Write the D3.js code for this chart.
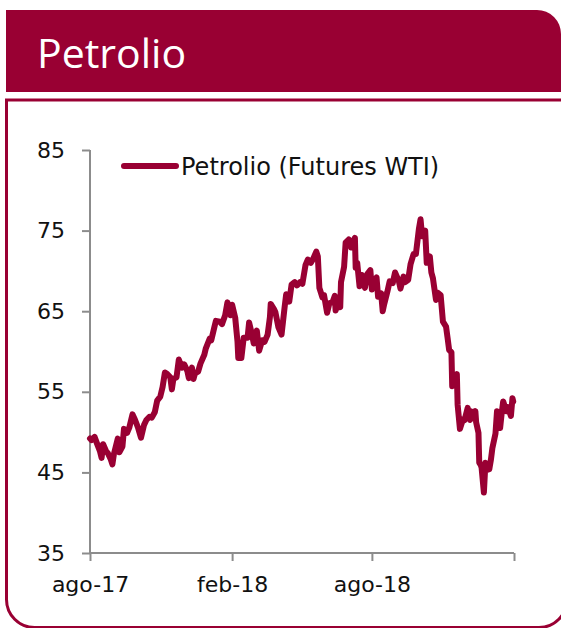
<!DOCTYPE html>
<html>
<head>
<meta charset="utf-8">
<script src="https://cdn.jsdelivr.net/npm/d3@7"></script>
<style>
  html, body { margin: 0; padding: 0; background: #ffffff; }
  svg { display: block; }
  .lbl { font-family: "DejaVu Sans", Verdana, sans-serif; fill: #111; }
</style>
</head>
<body>
<svg id="chart" width="561" height="628"></svg>
<script>
// ---- Data (WTI futures) ----
const dates = [
  "2017-08-01","2017-08-03","2017-08-07","2017-08-10","2017-08-14","2017-08-16","2017-08-18","2017-08-22","2017-08-24","2017-08-28","2017-08-30",
  "2017-09-01","2017-09-06","2017-09-08","2017-09-12","2017-09-14","2017-09-18","2017-09-21","2017-09-25","2017-09-28",
  "2017-10-02","2017-10-06","2017-10-10","2017-10-13","2017-10-17","2017-10-20","2017-10-24","2017-10-27","2017-10-31",
  "2017-11-03","2017-11-06","2017-11-09","2017-11-13","2017-11-15","2017-11-17","2017-11-21","2017-11-24","2017-11-28",
  "2017-12-01","2017-12-05","2017-12-07","2017-12-11","2017-12-13","2017-12-15","2017-12-19","2017-12-22","2017-12-27","2017-12-29",
  "2018-01-03","2018-01-05","2018-01-09","2018-01-11","2018-01-16","2018-01-19","2018-01-23","2018-01-26","2018-01-30",
  "2018-02-01","2018-02-05","2018-02-08","2018-02-09","2018-02-13","2018-02-16","2018-02-21","2018-02-23","2018-02-27",
  "2018-03-01","2018-03-05","2018-03-08","2018-03-12","2018-03-15","2018-03-19","2018-03-22","2018-03-23","2018-03-27","2018-03-29",
  "2018-04-02","2018-04-06","2018-04-10","2018-04-12","2018-04-16","2018-04-19","2018-04-23","2018-04-26","2018-04-30",
  "2018-05-03","2018-05-07","2018-05-10","2018-05-14","2018-05-17","2018-05-21","2018-05-23","2018-05-25","2018-05-29","2018-05-31",
  "2018-06-04","2018-06-07","2018-06-11","2018-06-14","2018-06-15","2018-06-18","2018-06-21","2018-06-22","2018-06-26","2018-06-28",
  "2018-07-02","2018-07-05","2018-07-09","2018-07-10","2018-07-11","2018-07-13","2018-07-16","2018-07-19","2018-07-23","2018-07-26","2018-07-30",
  "2018-08-01","2018-08-03","2018-08-07","2018-08-09","2018-08-13","2018-08-15","2018-08-17","2018-08-21","2018-08-24","2018-08-28","2018-08-31",
  "2018-09-05","2018-09-07","2018-09-11","2018-09-13","2018-09-17","2018-09-20","2018-09-24","2018-09-27",
  "2018-10-01","2018-10-03","2018-10-05","2018-10-09","2018-10-11","2018-10-15","2018-10-17","2018-10-19","2018-10-23","2018-10-25","2018-10-29",
  "2018-11-01","2018-11-05","2018-11-07","2018-11-09","2018-11-12","2018-11-13","2018-11-15","2018-11-19","2018-11-20","2018-11-23","2018-11-27","2018-11-29",
  "2018-12-03","2018-12-06","2018-12-07","2018-12-11","2018-12-13","2018-12-14","2018-12-17","2018-12-18","2018-12-20","2018-12-21","2018-12-24","2018-12-26","2018-12-28","2018-12-31",
  "2019-01-02","2019-01-04","2019-01-08","2019-01-10","2019-01-14","2019-01-16","2019-01-18","2019-01-22","2019-01-24","2019-01-28","2019-01-30","2019-01-31"
];
const wti = [
  49.2,49.0,49.4,48.6,47.6,46.8,48.5,47.6,47.4,46.6,46.0,
  47.3,49.2,47.5,48.2,50.4,49.9,50.6,52.2,51.6,
  50.6,49.3,50.9,51.5,51.9,51.8,52.5,53.9,54.4,
  55.6,57.4,57.2,56.8,55.3,56.6,56.8,59.0,58.0,
  58.4,57.6,56.7,58.0,56.6,57.3,57.5,58.5,59.6,60.4,
  61.6,61.4,63.0,63.8,63.7,63.4,64.5,66.1,64.5,
  65.8,64.2,61.2,59.2,59.2,61.7,61.7,63.6,62.0,
  61.0,62.6,60.1,61.4,61.2,62.1,64.3,65.9,65.3,64.9,
  63.0,62.1,65.5,67.1,66.2,68.3,68.6,68.2,68.6,
  68.4,70.7,71.4,71.0,71.5,72.4,71.8,67.9,66.7,67.0,
  64.8,66.0,66.1,66.9,65.1,65.9,65.5,68.6,70.5,73.5,
  73.9,72.9,73.9,74.1,70.4,71.0,68.1,69.5,67.9,69.6,70.1,
  67.7,68.5,69.2,66.8,67.2,65.0,65.9,67.4,68.7,68.5,69.8,
  68.7,67.8,69.3,68.6,68.9,70.8,72.1,72.1,
  75.3,76.4,74.3,75.0,71.0,71.8,69.8,69.1,66.4,67.3,67.0,
  63.7,63.1,61.7,60.2,59.9,55.7,56.5,57.2,53.4,50.4,51.6,51.5,
  53.0,51.5,52.6,51.7,52.6,51.2,49.9,46.2,45.9,45.6,42.5,46.2,45.3,45.4,
  46.5,48.0,49.8,52.6,50.5,52.3,53.8,52.6,53.1,52.0,54.2,53.8
];
const yTicks = [35, 45, 55, 65, 75, 85];
const xTickDates = ["2017-08-01", "2018-02-01", "2018-08-01", "2019-02-01"];
const xTickLabels = ["ago-17", "feb-18", "ago-18", ""];
const title = "Petrolio";
const seriesName = "Petrolio (Futures WTI)";

const CRIMSON = "#990033";
const parse = d3.timeParse("%Y-%m-%d");
const data = dates.map((d, i) => ({ date: parse(d), value: wti[i] }));

const svg = d3.select("#chart");

// ---- Header band ----
const hx = 6, hy = 10, hw = 555, hh = 82, hr = 24;
svg.append("path")
  .attr("d", `M${hx},${hy} H${hx + hw - hr} A${hr},${hr} 0 0 1 ${hx + hw},${hy + hr} V${hy + hh} H${hx} Z`)
  .attr("fill", CRIMSON);
svg.append("text")
  .attr("x", 37).attr("y", 68)
  .attr("fill", "#ffffff")
  .attr("font-family", "'Open Sans', 'DejaVu Sans', sans-serif")
  .attr("font-size", 41)
  .text(title);

// ---- Panel border ----
const px0 = 6.5, py0 = 100, px1 = 567, py1 = 627.5, pr = 28;
svg.append("path")
  .attr("d", `M${px1},${py0} H${px0} V${py1 - pr} A${pr},${pr} 0 0 0 ${px0 + pr},${py1} H${px1 - pr} A${pr},${pr} 0 0 0 ${px1},${py1 - pr}`)
  .attr("fill", "none")
  .attr("stroke", CRIMSON)
  .attr("stroke-width", 3);

// ---- Scales ----
const x = d3.scaleTime()
  .domain([parse("2017-08-01"), parse("2019-02-01")])
  .range([90, 514]);
const y = d3.scaleLinear().domain([35, 85]).range([553, 150]);

// ---- Axes ----
const axisColor = "#8c8c8c";
const yAxis = svg.append("g").attr("transform", "translate(90,0)")
  .call(d3.axisLeft(y).tickValues(yTicks).tickSize(8).tickSizeOuter(0).tickPadding(17));
const xAxis = svg.append("g").attr("transform", "translate(0,553)")
  .call(d3.axisBottom(x).tickValues(xTickDates.map(parse)).tickSize(8).tickSizeOuter(0)
    .tickFormat((d, i) => xTickLabels[i]).tickPadding(15));
[yAxis, xAxis].forEach(g => {
  g.select(".domain").attr("stroke", axisColor).attr("stroke-width", 2);
  g.selectAll(".tick line").attr("stroke", axisColor).attr("stroke-width", 2);
  g.selectAll(".tick text").attr("class", "lbl").attr("font-size", 22).attr("fill", "#111");
});
xAxis.select(".domain").attr("d", `M${x.range()[0]},0H${x.range()[1]}`);
yAxis.select(".domain").attr("d", `M0,${y.range()[0]}V${y.range()[1]}`);

// ---- Line ----
const line = d3.line().x(d => x(d.date)).y(d => y(d.value)).curve(d3.curveLinear);
svg.append("path")
  .datum(data)
  .attr("d", line)
  .attr("fill", "none")
  .attr("stroke", CRIMSON)
  .attr("stroke-width", 6)
  .attr("stroke-linejoin", "round")
  .attr("stroke-linecap", "round");

// ---- Legend ----
svg.append("line")
  .attr("x1", 124).attr("x2", 176).attr("y1", 166).attr("y2", 166)
  .attr("stroke", CRIMSON).attr("stroke-width", 6).attr("stroke-linecap", "round");
svg.append("text")
  .attr("class", "lbl")
  .attr("x", 181).attr("y", 175)
  .attr("font-size", 24)
  .text(seriesName);
</script>
</body>
</html>
